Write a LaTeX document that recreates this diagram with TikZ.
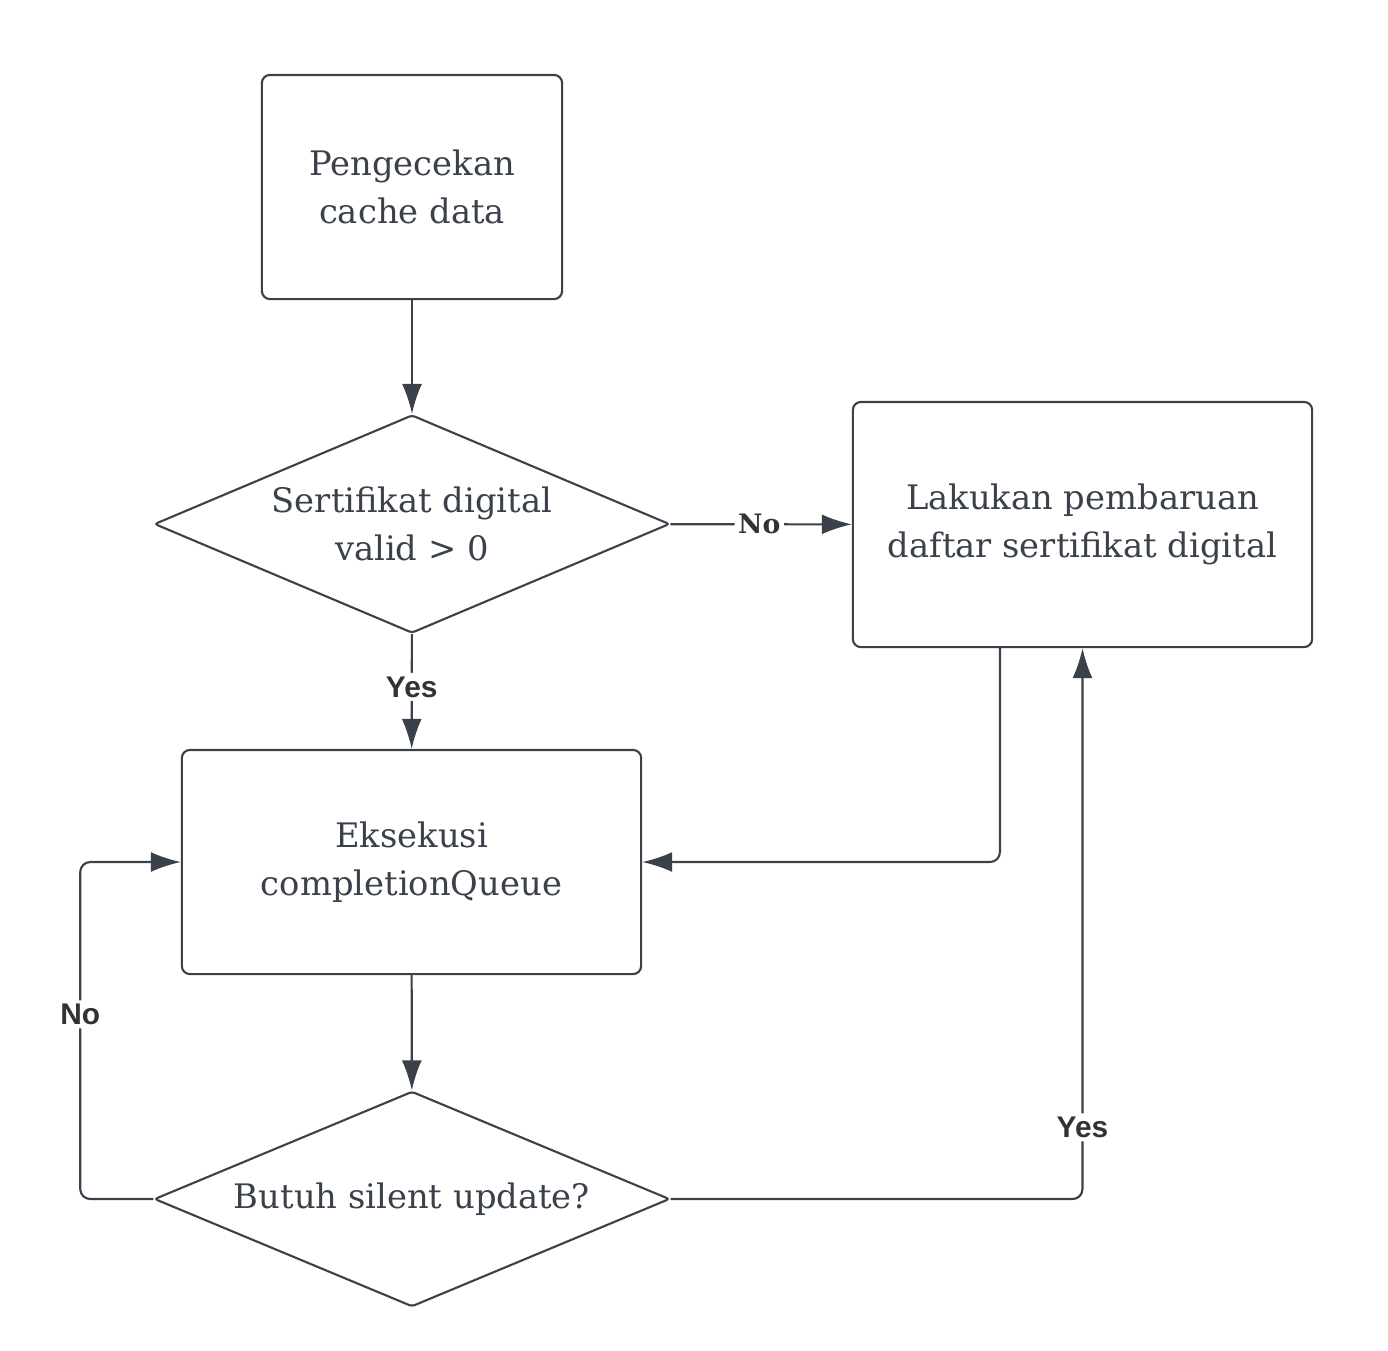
\documentclass[tikz,border=0pt]{standalone}
\usepackage{fontspec}
\setmainfont{DejaVu Serif}
\newfontfamily\labelfont{Liberation Sans}
\usetikzlibrary{arrows.meta,positioning,shapes.geometric}
\definecolor{linec}{HTML}{3A414A}
\definecolor{labc}{HTML}{333333}

\begin{document}
\begin{tikzpicture}[x=0.01cm, y=-0.01cm,
  >={Latex[length=0.3cm,width=0.2cm]},
  every node/.append style={align=center},
  box/.style={draw=linec, line width=0.6pt, rounded corners=0.08cm, inner sep=0pt,
    text=linec, font=\fontsize{9.6}{13.7}\selectfont},
  dec/.style={diamond, aspect=1.95, draw=linec, line width=0.6pt, rounded corners=0.03cm, inner sep=0pt,
    text=linec, font=\fontsize{9.6}{13.7}\selectfont},
  lab/.style={fill=white, inner sep=1pt, text=labc, font=\labelfont\bfseries\fontsize{8.5}{10}\selectfont},
  labserif/.style={fill=white, inner sep=1pt, text=labc, font=\bfseries\fontsize{7.6}{9}\selectfont},
  flow/.style={->, draw=linec, line width=0.6pt, rounded corners=0.1cm}]
 \useasboundingbox (0,0) rectangle (1388,1350);
 \node [box, minimum width=3cm, minimum height=2.24cm] (cek) at (412,187) {Pengecekan\\cache data};
 \node [dec, minimum width=5.15cm] (valid) at (412,524) {Sertifikat digital\\valid > 0};
 \node [box, minimum width=4.59cm, minimum height=2.45cm] (upd) at (1082.5,524.5) {Lakukan pembaruan\\daftar sertifikat digital};
 \node [box, minimum width=4.59cm, minimum height=2.24cm] (exec) at (411.5,862) {Eksekusi\\completionQueue};
 \node [dec, minimum width=5.15cm] (silent) at (412,1199) {Butuh silent update?};
 \coordinate [left=0.73cm of silent.west] (noturn);
 \draw[flow] (cek) -- (valid);
 \draw[flow] (valid) -- node[labserif, pos=0.49] {No} (upd);
 \draw[flow] (valid) -- node[lab, pos=0.46] {Yes} (exec);
 \draw[flow] ([xshift=-0.825cm]upd.south) |- (exec);
 \draw[flow] (exec) -- (silent);
 \draw[flow] (silent.west) -- (noturn) |- node[lab, pos=0.274] {No} (exec.west);
 \draw[flow] (silent.east) -| node[lab, pos=0.565] {Yes} (upd.south); % back up to the update box
\end{tikzpicture}
\end{document}
